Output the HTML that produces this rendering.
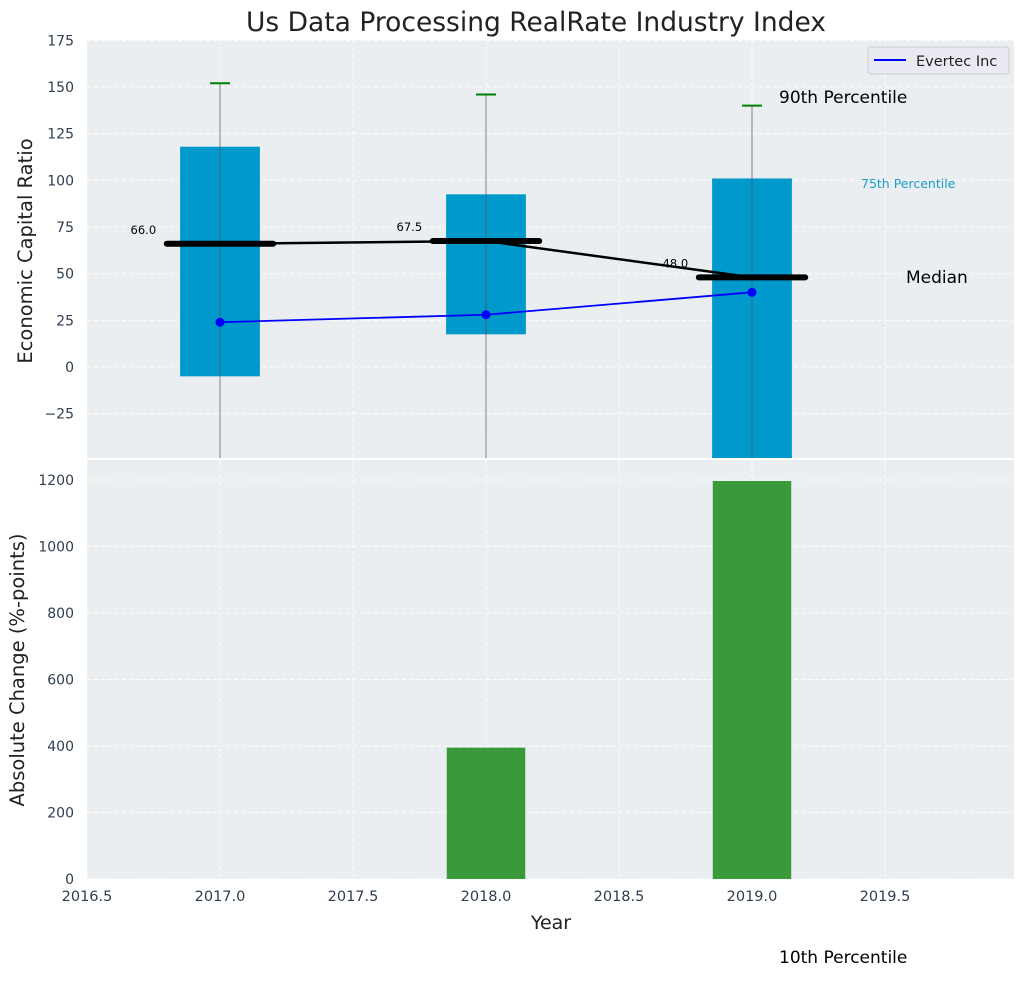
<!DOCTYPE html>
<html><head><meta charset="utf-8"><style>
body{margin:0;background:#fff;font-family:"Liberation Sans","DejaVu Sans",sans-serif}
svg text{font-family:"DejaVu Sans","Liberation Sans",sans-serif}
</style></head><body>
<svg id="c" width="1026" height="976" xmlns="http://www.w3.org/2000/svg"></svg>
<script>
const years=[2017,2018,2019];
const p10=[-80,-80,-80];
const p25=[-5,17.5,-60];
const p50=[66,67.5,48];
const p75=[118,92.5,101];
const p90=[152,146,140];
const evertec=[24,28,40];
const changeYears=[2018,2019];
const changeVals=[395,1197];
const topTicks=[-25,0,25,50,75,100,125,150,175];
const botTicks=[0,200,400,600,800,1000,1200];
const xTicks=[2016.5,2017,2017.5,2018,2018.5,2019,2019.5];

const NS="http://www.w3.org/2000/svg";
const svg=document.getElementById('c');
function mk(t,a,p){const e=document.createElementNS(NS,t);for(const k in a)e.setAttribute(k,a[k]);(p||svg).appendChild(e);return e;}
const L=87,R=1014,T1=40,B1=458,T2=460,B2=879;
const x=v=>L+(v-2016.5)*266;
const y1=v=>367-v*1.8667;
const y2=v=>B2-v*0.3325;

let e=mk('rect',{x:L,y:T1,width:R-L,height:B1-T1,fill:'#eaeef0'});

e=mk('rect',{x:L,y:T2,width:R-L,height:B2-T2,fill:'#eaeef0'});


const g='stroke:#fff;stroke-dasharray:4,3;stroke-width:1;opacity:.9';
topTicks.forEach(t=>{const yy=y1(t);if(yy<T1||yy>B1)return;
 mk('line',{x1:L,x2:R,y1:yy,y2:yy,style:g});
 e=mk('text',{x:L-13,y:yy+5,'text-anchor':'end','font-size':14,fill:'#2f3e50'});e.textContent=t<0?'\u2212'+(-t):t;
 });
botTicks.forEach(t=>{const yy=y2(t);
 mk('line',{x1:L,x2:R,y1:yy,y2:yy,style:g});
 e=mk('text',{x:L-13,y:yy+5,'text-anchor':'end','font-size':14,fill:'#2f3e50'});e.textContent=t;
 });
xTicks.forEach(t=>{const xx=x(t);
 mk('line',{x1:xx,x2:xx,y1:T1,y2:B1,style:g});mk('line',{x1:xx,x2:xx,y1:T2,y2:B2,style:g});
 e=mk('text',{x:xx,y:B2+22,'text-anchor':'middle','font-size':14.5,fill:'#2f3e50'});e.textContent=t.toFixed(1);
 });

const clip=mk('clipPath',{id:'cp'});mk('rect',{x:L,y:T1,width:R-L,height:B1-T1},clip);
const gp=mk('g',{'clip-path':'url(#cp)'});
years.forEach((yr,i)=>{
 const bw=0.3*266;
 e=mk('rect',{x:x(yr)-bw/2,y:y1(p75[i]),width:bw,height:y1(p25[i])-y1(p75[i]),fill:'#0099cc'},gp);
 
 e=mk('line',{x1:x(yr),x2:x(yr),y1:y1(p90[i]),y2:y1(p10[i]),stroke:'#555',opacity:.6,'stroke-width':1.2},gp);
 
 e=mk('line',{x1:x(yr)-10,x2:x(yr)+10,y1:y1(p90[i]),y2:y1(p90[i]),stroke:'green','stroke-width':2},gp);
 
});
e=mk('polyline',{points:years.map((yr,i)=>x(yr)+','+y1(p50[i])).join(' '),fill:'none',stroke:'#000','stroke-width':2.5},gp);

years.forEach((yr,i)=>{
 e=mk('line',{x1:x(yr-0.2),x2:x(yr+0.2),y1:y1(p50[i]),y2:y1(p50[i]),stroke:'#000','stroke-width':6,'stroke-linecap':'round'},gp);
 
 e=mk('text',{x:x(yr-0.24),y:y1(p50[i])-10,'text-anchor':'end','font-size':11.5,fill:'#000'},gp);e.textContent=p50[i].toFixed(1);
 
});
e=mk('polyline',{points:years.map((yr,i)=>x(yr)+','+y1(evertec[i])).join(' '),fill:'none',stroke:'#0000ff','stroke-width':1.8},gp);

years.forEach((yr,i)=>{e=mk('circle',{cx:x(yr),cy:y1(evertec[i]),r:4.5,fill:'#0000ff'},gp);
 });

changeYears.forEach((yr,i)=>{const bw=0.295*266;
 e=mk('rect',{x:x(yr)-bw/2,y:y2(changeVals[i]),width:bw,height:B2-y2(changeVals[i]),fill:'#3a9a3a'});
 });

function txt(s,a,n){const t=mk('text',a);t.textContent=s;}
txt('Us Data Processing RealRate Industry Index',{x:536,y:31,'text-anchor':'middle','font-size':26.5,fill:'#222'},'chart-title');
txt('Economic Capital Ratio',{x:32,y:251,'text-anchor':'middle','font-size':19.5,fill:'#222',transform:'rotate(-90 32 251)'},'top-y-axis-title');
txt('Absolute Change (%-points)',{x:24,y:670,'text-anchor':'middle','font-size':19.5,fill:'#222',transform:'rotate(-90 24 670)'},'bottom-y-axis-title');
txt('Year',{x:551,y:929,'text-anchor':'middle','font-size':19,fill:'#222'},'x-axis-title');
txt('90th Percentile',{x:779,y:103,'font-size':17,fill:'#000'},'p90-annotation');
txt('75th Percentile',{x:861,y:188,'font-size':12.5,fill:'#1a9ccc'},'p75-annotation');
txt('Median',{x:906,y:283,'font-size':17,fill:'#000'},'median-annotation');
txt('10th Percentile',{x:779,y:963,'font-size':17,fill:'#000'},'p10-annotation');

const lg=mk('g',{});
mk('rect',{x:868,y:47,width:141,height:27,rx:3,fill:'#eaeaf2',stroke:'#ccc'},lg);
mk('line',{x1:874,x2:906,y1:60,y2:60,stroke:'#0000ff','stroke-width':2},lg);
e=mk('text',{x:916,y:66,'font-size':14.5,fill:'#222'},lg);e.textContent='Evertec Inc';
</script>
</body></html>
